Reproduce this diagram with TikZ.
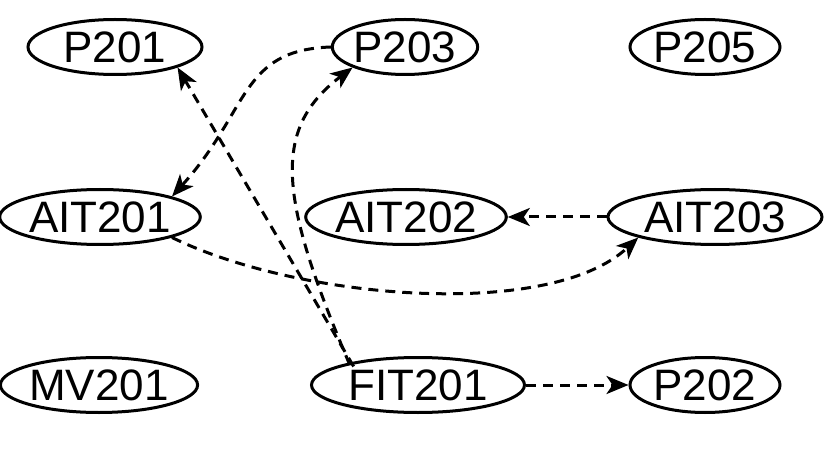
\documentclass[tikz,border=0pt]{standalone}
\usepackage{fontspec}
\setmainfont{Liberation Sans}
\usetikzlibrary{arrows, arrows.meta, positioning, shapes.geometric}
\begin{document}
\begin{tikzpicture}[x=1pt, y=-1pt,
    var/.style={ellipse, draw, line width=3pt, inner sep=0pt, minimum height=55pt, font=\fontsize{44}{44}\selectfont},
    dep/.style={-{Stealth[length=22pt, width=18pt, inset=6pt]}, line width=3pt, dash pattern=on 10pt off 7pt}]
    \useasboundingbox (0,0) rectangle (830,449);
    % first row
    \node[var, minimum width=174pt] (p201) at (115,47) {P201};
    \node[var, minimum width=140pt] (p203) at (405,47) {P203};
    \node[var, minimum width=150pt] (p205) at (705,47) {P205};
    % second row
    \node[var, minimum width=194pt] (ait201) at (100,217) {AIT201};
    \node[var, minimum width=188pt] (ait202) at (406,217) {AIT202};
    \node[var, minimum width=214pt] (ait203) at (715,217) {AIT203};
    % third row
    \node[var, minimum width=192pt] (mv201) at (99,385) {MV201};
    \node[var, minimum width=213pt] (fit201) at (418,385) {FIT201};
    \node[var, minimum width=150pt] (p202) at (705,385) {P202};

    \draw[dep] (fit201.north west) ++(12,2) -- (p201.south east);
    \draw[dep] (fit201.north west) ++(8,0) .. controls (280,200) and (270,130) .. (p203.south west);
    \draw[dep] (p203.west) .. controls (240,50) and (250,110) .. (ait201.north east);
    \draw[dep] (ait201.south east) .. controls (300,300) and (550,320) .. (ait203.south west);
    \draw[dep] (ait203) -- (ait202);
    \draw[dep] (fit201) -- (p202);
\end{tikzpicture}
\end{document}
